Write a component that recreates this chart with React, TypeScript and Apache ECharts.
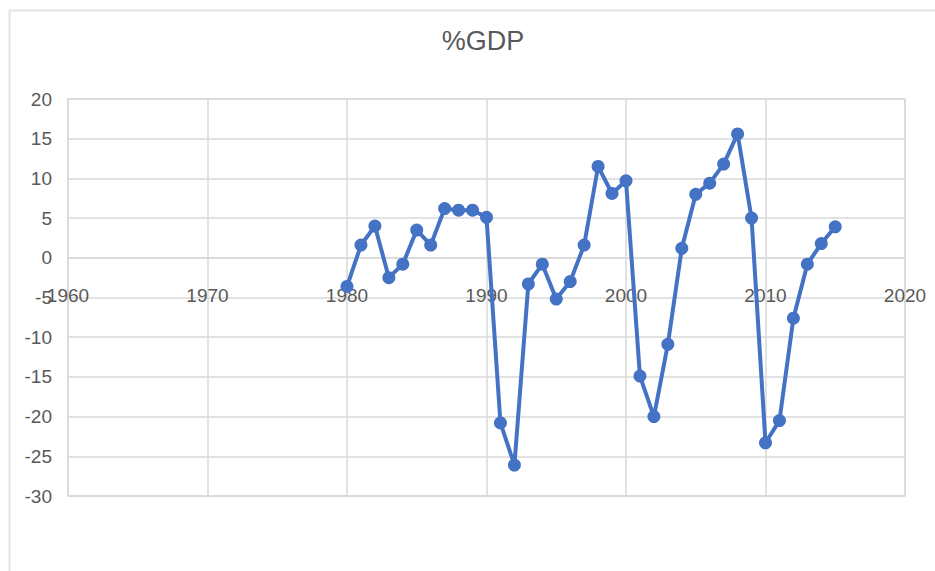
import React, { useEffect, useRef } from "react";
import * as echarts from "echarts";

const years = [1980, 1981, 1982, 1983, 1984, 1985, 1986, 1987, 1988, 1989, 1990, 1991, 1992, 1993, 1994, 1995, 1996, 1997, 1998, 1999, 2000, 2001, 2002, 2003, 2004, 2005, 2006, 2007, 2008, 2009, 2010, 2011, 2012, 2013, 2014, 2015];
const gdpValues = [-3.6, 1.6, 4.0, -2.5, -0.8, 3.5, 1.6, 6.2, 6.0, 6.0, 5.1, -20.8, -26.1, -3.3, -0.8, -5.2, -3.0, 1.6, 11.5, 8.1, 9.7, -14.9, -20.0, -10.9, 1.2, 8.0, 9.4, 11.8, 15.6, 5.0, -23.3, -20.5, -7.6, -0.8, 1.8, 3.9];
const titleText = "%GDP";

const FONT = "'Liberation Sans Narrow', 'Liberation Sans', sans-serif";

export default function App() {
  const ref = useRef<HTMLDivElement>(null);
  useEffect(() => {
    if (!ref.current) return;
    const chart = echarts.init(ref.current, null, { renderer: "svg" });
    chart.setOption({
      animation: false,
      backgroundColor: "#ffffff",
      title: {
        text: titleText,
        left: 478,
        textAlign: "center",
        top: 22,
        textStyle: { fontFamily: FONT, fontSize: 27, fontWeight: "normal", color: "#595959" },
      },
      graphic: [
        { type: "line", shape: { x1: 9, y1: 10.5, x2: 935, y2: 10.5 }, style: { stroke: "#E3E3E3", lineWidth: 2 } },
        { type: "line", shape: { x1: 9.5, y1: 10, x2: 9.5, y2: 571 }, style: { stroke: "#E3E3E3", lineWidth: 2 } },
      ],
      grid: { left: 68, right: 30, top: 99, bottom: 75, show: true, borderColor: "#D9D9D9", borderWidth: 1.5 },
      xAxis: {
        type: "value",
        min: 1960,
        max: 2020,
        interval: 10,
        position: "bottom",
        offset: -238,
        axisLine: { show: true, onZero: false, lineStyle: { color: "#D9D9D9", width: 1.5 } },
        axisTick: { show: false },
        splitLine: { show: true, lineStyle: { color: "#D9D9D9", width: 1.5 } },
        axisLabel: { fontFamily: FONT, fontSize: 19, color: "#595959", margin: 28, formatter: (v: number) => String(v) },
      },
      yAxis: {
        type: "value",
        min: -30,
        max: 20,
        interval: 5,
        axisLine: { show: false },
        axisTick: { show: false },
        splitLine: { show: true, lineStyle: { color: "#D9D9D9", width: 1.5 } },
        axisLabel: { fontFamily: FONT, fontSize: 19, color: "#595959", margin: 16 },
      },
      series: [
        {
          type: "line",
          data: years.map((y, i) => [y, gdpValues[i]]),
          symbol: "circle",
          symbolSize: 13,
          lineStyle: { color: "#4472C4", width: 4 },
          itemStyle: { color: "#4472C4" },
        },
      ],
    });
    return () => chart.dispose();
  }, []);
  return <div ref={ref} style={{ position: "absolute", left: 0, top: 0, width: 935, height: 571 }} />;
}
